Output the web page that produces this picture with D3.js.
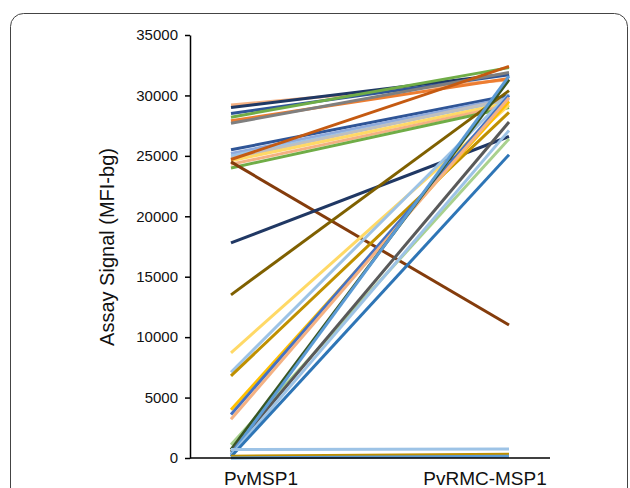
<!DOCTYPE html>
<html>
<head>
<meta charset="utf-8">
<script src="https://cdn.jsdelivr.net/npm/d3@7"></script>
<style>
  body { margin: 0; background: #fff; }
  text { font-family: "Liberation Sans", Arial, sans-serif; fill: #111; }
</style>
</head>
<body>
<div id="chart-area"></div>
<script>
var categories = ["PvMSP1", "PvRMC-MSP1"];
var yTicks = [0, 5000, 10000, 15000, 20000, 25000, 30000, 35000];

// one entry per sample: signal with PvMSP1, signal with PvRMC-MSP1
var msp1 = [29200, 29000, 28500, 28200, 27900, 27700,
            25500, 25200, 25000, 24800, 24600, 24300, 24700, 24000, 24500,
            17800, 13500,
            8700, 7100, 6800, 4000, 3600, 3200, 1100, 700, 500, 300, 200, 100,
            700, 150, 0];
var rmc = [31300, 31800, 31700, 32300, 31400, 31900,
           30000, 29800, 29600, 29700, 29400, 29200, 32400, 29000, 11000,
           26600, 30400,
           29200, 30100, 28600, 29500, 30000, 29800, 26400, 31300, 27800, 31600, 27100, 25100,
           750, 300, 150];
var colors = ["#F4B183", "#1F3864", "#2F5597", "#70AD47", "#ED7D31", "#7F7F7F",
              "#2F5597", "#8FAADC", "#9DC3E6", "#BFBFBF", "#FFD966", "#F4B183", "#C55A11", "#70AD47", "#843C0C",
              "#203864", "#7F6000",
              "#FFD966", "#9DC3E6", "#BF9000", "#FFC000", "#4472C4", "#F4B183", "#A9D18E", "#375623", "#595959", "#5B9BD5", "#9DC3E6", "#2E75B6",
              "#9DC3E6", "#BF9000", "#5B9BD5"];

var data = msp1.map(function(d, i) {
    return {a: d, b: rmc[i], color: colors[i]};
});

var svg = d3.select("#chart-area").append("svg")
    .attr("width", 630)
    .attr("height", 488);

// frame
svg.append("rect")
    .attr("x", 10.5).attr("y", 13.5)
    .attr("width", 617).attr("height", 500)
    .attr("rx", 13)
    .attr("fill", "none")
    .attr("stroke", "#444")
    .attr("stroke-width", 1);

var y = d3.scaleLinear().domain([0, 35000]).range([458, 35]);
var x = d3.scalePoint().domain(categories).range([231, 509]);
var xLabel = d3.scalePoint().domain(categories).range([261, 485]);

var line = d3.line()
    .x(function(d) { return x(d[0]); })
    .y(function(d) { return y(d[1]); });

svg.selectAll("path.sample")
    .data(data)
    .enter()
    .append("path")
    .attr("class", "sample")
    .attr("d", function(d) { return line([[categories[0], d.a], [categories[1], d.b]]); })
    .attr("fill", "none")
    .attr("stroke", function(d) { return d.color; })
    .attr("stroke-width", 3);

// y axis
var yAxis = svg.append("g")
    .attr("transform", "translate(190,0)")
    .call(d3.axisLeft(y).tickValues(yTicks).tickFormat(d3.format("d"))
        .tickSize(5).tickSizeOuter(0).tickPadding(7));
yAxis.select(".domain").attr("stroke", "#000").attr("stroke-width", 1.5);
yAxis.selectAll(".tick line").attr("stroke", "#000").attr("stroke-width", 1.5);
yAxis.selectAll(".tick text")
    .style("font-family", "'Liberation Sans', Arial, sans-serif")
    .style("font-size", "15px")
    .attr("fill", "#111");

// x axis line
svg.append("line")
    .attr("x1", 190).attr("x2", 550)
    .attr("y1", y(0)).attr("y2", y(0))
    .attr("stroke", "#000").attr("stroke-width", 1.5);

svg.selectAll("text.cat")
    .data(categories)
    .enter()
    .append("text")
    .attr("class", "cat")
    .attr("x", function(d) { return xLabel(d); })
    .attr("y", 485)
    .attr("text-anchor", "middle")
    .style("font-size", "19px")
    .text(function(d) { return d; });

svg.append("text")
    .attr("transform", "translate(114,247) rotate(-90)")
    .attr("text-anchor", "middle")
    .style("font-size", "20px")
    .text("Assay Signal (MFI-bg)");
</script>
</body>
</html>
